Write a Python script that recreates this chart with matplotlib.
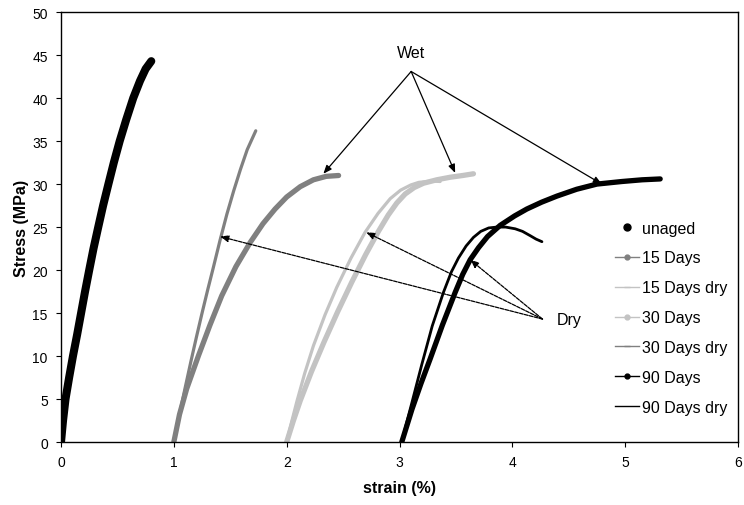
"""Stress-strain curves for unaged and aged samples, wet and dry."""

import matplotlib

matplotlib.use("Agg")

import matplotlib.pyplot as plt
from matplotlib.lines import Line2D

plt.rcParams["font.family"] = ["Liberation Sans", "DejaVu Sans"]
plt.rcParams["font.size"] = 10

GRAY = "#808080"
LIGHT = "#c3c3c3"

unaged_x = [0.0, 0.018, 0.04, 0.072, 0.106, 0.143, 0.178, 0.213, 0.25, 0.288, 0.33,
            0.373, 0.42, 0.468, 0.52, 0.578, 0.64, 0.70, 0.75, 0.80]
unaged_y = [0.0, 2.5, 5.0, 7.5, 10.0, 12.5, 15.0, 17.5, 20.0, 22.5, 25.0,
            27.5, 30.0, 32.5, 35.0, 37.5, 40.0, 42.0, 43.4, 44.3]

d15_x = [1.0, 1.05, 1.114, 1.217, 1.32, 1.424, 1.55, 1.676, 1.79, 1.897, 2.0,
         2.12, 2.237, 2.35, 2.46]
d15_y = [0.0, 3.2, 6.2, 10.0, 13.6, 17.0, 20.4, 23.2, 25.4, 27.1, 28.5,
         29.7, 30.5, 30.9, 31.0]

d15dry_x = [1.0, 1.05, 1.1, 1.15, 1.2, 1.25, 1.3, 1.35, 1.41, 1.47, 1.53, 1.59, 1.65, 1.726]
d15dry_y = [0.0, 3.2, 6.3, 9.3, 12.2, 15.0, 17.7, 20.3, 23.5, 26.5, 29.2, 31.7, 34.0, 36.2]

d30_x = [2.0, 2.06, 2.12, 2.22, 2.33, 2.45, 2.577, 2.70, 2.813, 2.90, 2.976, 3.05,
         3.13, 3.212, 3.33, 3.45, 3.56, 3.655]
d30_y = [0.0, 2.5, 4.8, 8.2, 11.6, 15.1, 18.6, 21.8, 24.5, 26.4, 27.8, 28.85,
         29.6, 30.1, 30.5, 30.8, 31.0, 31.2]

d30dry_x = [2.0, 2.045, 2.09, 2.16, 2.237, 2.34, 2.444, 2.57, 2.695, 2.81, 2.917,
            3.01, 3.10, 3.17, 3.242, 3.30, 3.36]
d30dry_y = [0.0, 2.4, 4.7, 8.0, 11.2, 14.8, 18.0, 21.4, 24.4, 26.6, 28.3,
            29.3, 29.9, 30.2, 30.3, 30.35, 30.3]

d90_x = [3.02, 3.065, 3.11, 3.19, 3.271, 3.38, 3.493, 3.56, 3.626, 3.70, 3.78, 3.892,
         4.02, 4.128, 4.26, 4.394, 4.57, 4.749, 4.97, 5.15, 5.31]
d90_y = [0.0, 1.9, 3.8, 6.8, 9.65, 13.6, 17.4, 19.5, 21.2, 22.6, 23.9, 25.2,
         26.3, 27.1, 27.9, 28.6, 29.4, 30.0, 30.3, 30.5, 30.6]

d90dry_x = [3.02, 3.06, 3.11, 3.197, 3.29, 3.389, 3.46, 3.522, 3.59, 3.655, 3.72,
            3.79, 3.862, 3.94, 4.025, 4.09, 4.158, 4.21, 4.262]
d90dry_y = [0.0, 2.1, 4.6, 9.0, 13.5, 17.4, 19.8, 21.4, 22.8, 23.8, 24.5,
            24.9, 25.0, 25.0, 24.8, 24.5, 24.0, 23.6, 23.3]

# annotation anchors
wet_origin = (3.103, 43.1)
wet_tips = [(2.325, 31.2), (3.493, 31.3), (4.793, 30.0)]
dry_origin = (4.267, 14.3)
dry_tips = [(1.41, 23.9), (2.704, 24.4), (3.626, 21.2)]

legend_labels = ["unaged", "15 Days", "15 Days dry", "30 Days", "30 Days dry", "90 Days", "90 Days dry"]

fig = plt.figure(figsize=(7.44, 5.06), dpi=100)
ax = fig.add_axes([0.082, 0.1245, 0.910, 0.8495])

kw = dict(solid_capstyle="round", solid_joinstyle="round")
ax.plot(unaged_x, unaged_y, color="black", lw=5.8, **kw)
ax.plot(d15dry_x, d15dry_y, color=GRAY, lw=2.3, **kw)
ax.plot(d15_x, d15_y, color=GRAY, lw=3.8, **kw)
ax.plot(d30dry_x, d30dry_y, color=LIGHT, lw=2.3, **kw)
ax.plot(d30_x, d30_y, color=LIGHT, lw=3.8, **kw)
ax.plot(d90dry_x, d90dry_y, color="black", lw=2.0, **kw)
ax.plot(d90_x, d90_y, color="black", lw=3.8, **kw)

for tip in wet_tips:
    ax.annotate("", xy=tip, xytext=wet_origin,
                arrowprops=dict(arrowstyle="-|>,head_length=0.5,head_width=0.2",
                                color="black", lw=0.9, shrinkA=0, shrinkB=0))
for tip in dry_tips:
    ax.annotate("", xy=tip, xytext=dry_origin,
                arrowprops=dict(arrowstyle="-|>,head_length=0.5,head_width=0.2",
                                color="black", lw=0.9, ls=(0, (3, 1)),
                                shrinkA=0, shrinkB=0))
ax.text(3.103, 45.3, "Wet", ha="center", va="center", fontsize=11.5)
ax.text(4.39, 14.3, "Dry", ha="left", va="center", fontsize=11.5)

ax.set_xlim(0, 6)
ax.set_ylim(0, 50)
ax.set_xticks(range(0, 7))
ax.set_yticks(range(0, 51, 5))
ax.tick_params(direction="out", length=3.5, width=0.8, pad=6, labelsize=10)
for s in ax.spines.values():
    s.set_linewidth(1.0)
ax.set_xlabel("strain (%)", fontweight="bold", fontsize=11.5, labelpad=8)
ax.set_ylabel("Stress (MPa)", fontweight="bold", fontsize=11.5, labelpad=2)

handles = [
    Line2D([], [], color="black", ls="none", marker="o", ms=5),
    Line2D([], [], color=GRAY, lw=1, marker="o", ms=3.5),
    Line2D([], [], color=LIGHT, lw=1, marker="_", ms=4),
    Line2D([], [], color=LIGHT, lw=1, marker="o", ms=3.5),
    Line2D([], [], color=GRAY, lw=1, marker="_", ms=4),
    Line2D([], [], color="black", lw=1, marker="o", ms=3.5),
    Line2D([], [], color="black", lw=1),
]
ax.legend(handles, legend_labels, loc="upper left", bbox_to_anchor=(0.818, 0.515),
          frameon=False, handlelength=1.5, handletextpad=0.2, labelspacing=0.93,
          borderpad=0, borderaxespad=0, fontsize=11.5)

fig.savefig("out.png", dpi=100)
plt.close(fig)
